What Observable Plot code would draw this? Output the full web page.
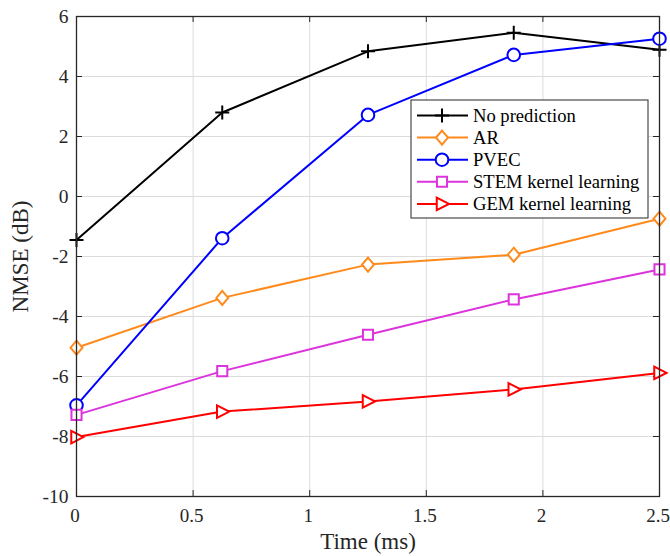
<!DOCTYPE html>
<html><head><meta charset="utf-8">
<script src="https://cdn.jsdelivr.net/npm/d3@7"></script>
<script src="https://cdn.jsdelivr.net/npm/@observablehq/plot@0.6"></script>
<style>
body{margin:0;background:#fff;}
svg text{font-family:'Liberation Serif','DejaVu Serif',serif !important;}
</style>
</head><body><div id="chart"></div>
<script>
const times = [0, 0.625, 1.25, 1.875, 2.5];
const noPrediction = [-1.45, 2.8, 4.84, 5.46, 4.89];
const arValues = [-5.04, -3.38, -2.27, -1.94, -0.74];
const pvecValues = [-6.96, -1.39, 2.72, 4.72, 5.26];
const stemValues = [-7.28, -5.82, -4.61, -3.43, -2.43];
const gemValues = [-8.02, -7.17, -6.83, -6.43, -5.88];
const seriesNames = ["No prediction", "AR", "PVEC", "STEM kernel learning", "GEM kernel learning"];
const seriesColors = ["#000000", "#ff8a1c", "#0000ff", "#dd33dd", "#ff0000"];
const xTicks = [0, 0.5, 1, 1.5, 2, 2.5];
const yTicks = [-10, -8, -6, -4, -2, 0, 2, 4, 6];
const xLabel = "Time (ms)";
const yLabel = "NMSE (dB)";

const W = 670, H = 556, mL = 76, mR = 11, mT = 16, mB = 60;
const innerW = W - mL - mR, innerH = H - mT - mB;
const FONT = "'Liberation Serif', 'DejaVu Serif', serif";

const rad = (s) => Math.sqrt(s / Math.PI);
const symPlus = {draw(c, s){ const r = rad(s); c.moveTo(-r,0); c.lineTo(r,0); c.moveTo(0,-r); c.lineTo(0,r);} };
const symDiamond = {draw(c, s){ const r = rad(s); c.moveTo(0,-r); c.lineTo(r*0.85,0); c.lineTo(0,r); c.lineTo(-r*0.85,0); c.closePath();} };
const symSquare = {draw(c, s){ const r = rad(s)*0.72; c.rect(-r,-r,2*r,2*r);} };
const symTri = {draw(c, s){ const r = rad(s); c.moveTo(r,0); c.lineTo(-r*0.75,-r*0.9); c.lineTo(-r*0.75,r*0.9); c.closePath();} };
const symCircle = {draw(c, s){ const r = rad(s)*0.9; c.moveTo(r,0); c.arc(0,0,r,0,2*Math.PI);} };
const seriesSymbols = [symPlus, symDiamond, symCircle, symSquare, symTri];
const seriesValues = [noPrediction, arValues, pvecValues, stemValues, gemValues];

const data = [];
seriesNames.forEach((name, i) => times.forEach((t, j) => data.push({series: name, idx: i, t, v: seriesValues[i][j]})));

const axisColor = "#262626";
const marks = [
  Plot.gridX(xTicks, {stroke: "#dcdcdc", strokeOpacity: 1}),
  Plot.gridY(yTicks, {stroke: "#dcdcdc", strokeOpacity: 1}),
  Plot.tickX(xTicks, {x: d => d, insetTop: innerH - 6, stroke: axisColor}),
  Plot.tickX(xTicks, {x: d => d, insetBottom: innerH - 6, stroke: axisColor}),
  Plot.tickY(yTicks, {y: d => d, insetRight: innerW - 6, stroke: axisColor}),
  Plot.tickY(yTicks, {y: d => d, insetLeft: innerW - 6, stroke: axisColor}),
  Plot.axisX(xTicks, {tickSize: 0, tickPadding: 12, fontSize: 19, dx: -1.5, color: axisColor, tickFormat: d => String(d), label: null}),
  Plot.axisY(yTicks, {tickSize: 0, tickPadding: 8, fontSize: 19.5, color: axisColor, tickFormat: d => String(d), label: null}),
];
seriesNames.forEach((name, i) => {
  const d = data.filter(r => r.idx === i);
  marks.push(Plot.line(d, {x: "t", y: "v", stroke: seriesColors[i], strokeWidth: 2}));
  marks.push(Plot.dot(d, {x: "t", y: "v", stroke: seriesColors[i], fill: "white", strokeWidth: 2, r: 7, symbol: () => seriesSymbols[i]}));
});
marks.push(Plot.frame({stroke: axisColor, strokeWidth: 1.3}));
marks.push(Plot.text([xLabel], {frameAnchor: "bottom", dy: 45, lineAnchor: "middle", textAnchor: "middle", fontSize: 23, fill: axisColor}));
marks.push(Plot.text([yLabel], {frameAnchor: "left", dx: -56, rotate: -90, lineAnchor: "middle", textAnchor: "middle", fontSize: 23, fill: axisColor}));

const chart = Plot.plot({
  width: W, height: H,
  marginLeft: mL, marginRight: mR, marginTop: mT, marginBottom: mB,
  x: {domain: [0, 2.5]},
  y: {domain: [-10, 6]},
  style: {background: "white", overflow: "visible"},
  marks
});
document.getElementById("chart").appendChild(chart);

// legend inside the plot area (top right)
const svg = d3.select(chart);
const lg = svg.append("g").attr("transform", `translate(${411},${100})`);
lg.append("rect").attr("width", 237).attr("height", 118).attr("fill", "white").attr("stroke", axisColor).attr("stroke-width", 1);
seriesNames.forEach((name, i) => {
  const y = 15.5 + i * 22.1;
  lg.append("line").attr("x1", 6).attr("x2", 57).attr("y1", y).attr("y2", y).attr("stroke", seriesColors[i]).attr("stroke-width", 2);
  lg.append("path").attr("transform", `translate(31,${y})`).attr("d", d3.symbol(seriesSymbols[i], Math.PI * 49)())
    .attr("fill", "white").attr("stroke", seriesColors[i]).attr("stroke-width", 2);
  lg.append("text").attr("x", 62).attr("y", y).attr("dy", "0.35em").attr("font-size", 18.6)
    .attr("text-anchor", "start").attr("fill", "#000").text(name);
});
svg.selectAll("text").style("font-family", FONT);
</script></body></html>
